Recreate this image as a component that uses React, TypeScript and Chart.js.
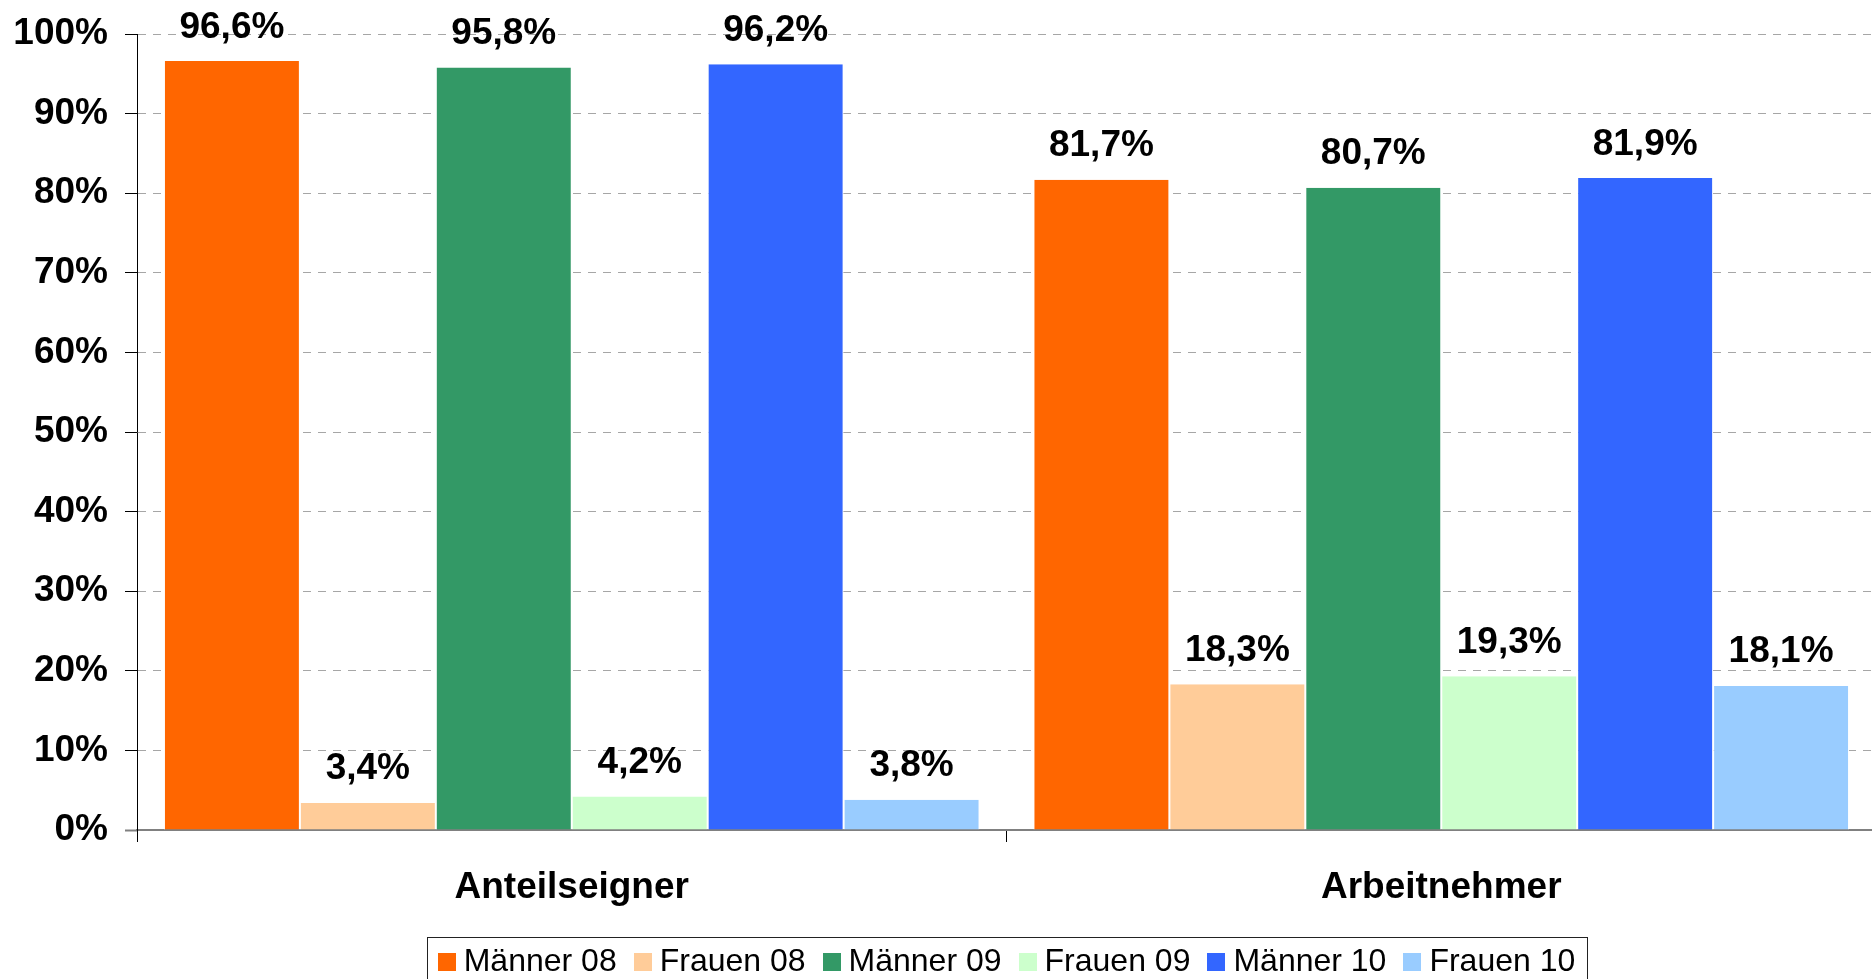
import React, { useEffect, useRef } from 'react';
import { Chart, registerables } from 'chart.js';

Chart.register(...registerables);

const categories = ['Anteilseigner', 'Arbeitnehmer'];
const seriesNames = ['Männer 08', 'Frauen 08', 'Männer 09', 'Frauen 09', 'Männer 10', 'Frauen 10'];
const maenner08 = [96.6, 81.7];
const frauen08 = [3.4, 18.3];
const maenner09 = [95.8, 80.7];
const frauen09 = [4.2, 19.3];
const maenner10 = [96.2, 81.9];
const frauen10 = [3.8, 18.1];
const seriesColors = ['#FF6600', '#FFCC99', '#339966', '#CCFFCC', '#3366FF', '#99CCFF'];
const yMin = 0;
const yMax = 100;
const yStep = 10;

const FONT = '"Liberation Sans", Arial, Helvetica, sans-serif';

const fmt = (v: number) => v.toFixed(1).replace('.', ',') + '%';

const valueLabels = {
  id: 'valueLabels',
  afterDatasetsDraw(chart: any) {
    const ctx = chart.ctx;
    ctx.save();
    ctx.font = `bold 37px ${FONT}`;
    ctx.fillStyle = '#000';
    ctx.textAlign = 'center';
    ctx.textBaseline = 'alphabetic';
    chart.data.datasets.forEach((ds: any, i: number) => {
      const meta = chart.getDatasetMeta(i);
      meta.data.forEach((el: any, j: number) => {
        ctx.fillText(fmt(ds.data[j]), el.x, el.y - 23.5);
      });
    });
    ctx.restore();
  },
};

// Legend in a framed box, built from the chart's datasets
const boxLegend = {
  id: 'boxLegend',
  afterDraw(chart: any) {
    const ctx = chart.ctx;
    const area = chart.chartArea;
    const fontSize = 32;
    const marker = 18;
    const gap = 8;
    const spacing = 17;
    ctx.save();
    ctx.font = `${fontSize}px ${FONT}`;
    const items = chart.data.datasets.map((ds: any) => ({
      text: ds.label,
      color: ds.backgroundColor,
      w: ctx.measureText(ds.label).width,
    }));
    const total =
      items.reduce((s: number, it: any) => s + marker + gap + it.w, 0) + spacing * (items.length - 1);
    const cx = (area.left + area.right) / 2;
    const cy = 962;
    let x = cx - total / 2;
    const startX = x;
    ctx.textAlign = 'left';
    ctx.textBaseline = 'middle';
    items.forEach((it: any) => {
      ctx.fillStyle = it.color;
      ctx.fillRect(Math.round(x), Math.round(cy - marker / 2), marker, marker);
      ctx.fillStyle = '#000';
      ctx.fillText(it.text, x + marker + gap, cy);
      x += marker + gap + it.w + spacing;
    });
    const endX = x - spacing;
    ctx.strokeStyle = '#222';
    ctx.lineWidth = 1;
    ctx.strokeRect(Math.round(startX - 11) + 0.5, Math.round(cy - 25.5) + 0.5, Math.round(endX - startX + 22), 52);
    ctx.restore();
  },
};

export default function App() {
  const ref = useRef<HTMLCanvasElement>(null);

  useEffect(() => {
    if (!ref.current) return;
    Chart.defaults.font.family = FONT;
    const seriesData = [maenner08, frauen08, maenner09, frauen09, maenner10, frauen10];
    const chart = new Chart(ref.current, {
      type: 'bar',
      data: {
        labels: categories,
        datasets: seriesData.map((d, i) => ({
          label: seriesNames[i],
          data: d,
          backgroundColor: seriesColors[i],
          borderColor: '#ffffff',
          borderWidth: { left: 1, right: 1, top: 0, bottom: 0 },
          borderSkipped: false,
          barPercentage: 1,
          categoryPercentage: 0.938,
        })),
      },
      options: {
        responsive: false,
        animation: false,
        devicePixelRatio: 1,
        layout: { padding: { top: 34, left: 0, right: 0, bottom: 0 } },
        plugins: {
          tooltip: { enabled: false },
          legend: { display: false },
        },
        scales: {
          x: {
            offset: true,
            grid: {
              display: true,
              offset: true,
              drawOnChartArea: false,
              drawTicks: true,
              tickLength: 12,
              color: '#000',
              tickColor: '#000',
            },
            border: { display: true, color: '#808080', width: 2 },
            ticks: {
              color: '#000',
              font: { size: 37, weight: 'bold', family: FONT },
              padding: 24,
              maxRotation: 0,
            },
            afterFit: (s: any) => {
              s.height = 149;
            },
          },
          y: {
            min: yMin,
            max: yMax,
            grid: {
              color: '#a6a6a6',
              lineWidth: 1,
              tickLength: 12,
              tickColor: (c: any) => (c.tick && c.tick.value === 0 ? '#808080' : '#000'),
              tickWidth: (c: any) => (c.tick && c.tick.value === 0 ? 2 : 1),
            },
            border: { display: true, color: '#000', width: 1, dash: [8, 7] },
            ticks: {
              stepSize: yStep,
              color: '#000',
              font: { size: 37, weight: 'bold', family: FONT, lineHeight: 0.85 },
              padding: 17,
              callback: (v: any) => `${v}%`,
            },
            afterFit: (s: any) => {
              s.width = 137;
            },
          },
        },
      },
      plugins: [valueLabels, boxLegend],
    });
    return () => chart.destroy();
  }, []);

  return (
    <div
      style={{
        position: 'absolute',
        left: 0,
        top: 0,
        width: 1872,
        height: 979,
        overflow: 'hidden',
        background: '#fff',
      }}
    >
      <canvas ref={ref} width={1876} height={979} style={{ width: 1876, height: 979, display: 'block' }} />
    </div>
  );
}
